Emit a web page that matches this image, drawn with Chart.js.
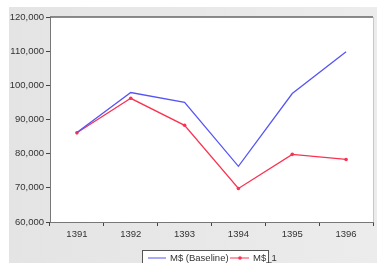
<!DOCTYPE html>
<html>
<head>
<meta charset="utf-8">
<script src="https://cdn.jsdelivr.net/npm/chart.js@4"></script>
<style>
    html, body { margin: 0; padding: 0; background: #ffffff; }
    #wrap { position: relative; width: 377px; height: 263px; }
</style>
</head>
<body>
<div id="wrap"><canvas id="grafico"></canvas></div>
<script>
// dados
const anos = ['1391', '1392', '1393', '1394', '1395', '1396'];
const baseline = [86200, 97900, 95000, 76300, 97600, 109800];
const cenario1 = [86100, 96200, 88300, 69800, 79800, 78300];
const yTicks = [60000, 70000, 80000, 90000, 100000, 110000, 120000];

const nomeBaseline = 'M$ (Baseline)';
const nomeCenario = 'M$_1';

const corAzul = 'rgba(85, 85, 245, 1)';
const corVermelha = 'rgba(250, 50, 80, 1)';

/**
 * Fundo cinza, área do gráfico branca e moldura
 */
const fundoPlugin = {
    id: 'fundo',
    beforeDraw(chart) {
        const ctx = chart.ctx;
        const a = chart.chartArea;
        ctx.save();
        const g = ctx.createLinearGradient(9, 0, 377, 0);
        g.addColorStop(0, '#e4e4e4');
        g.addColorStop(1, '#ececec');
        ctx.fillStyle = g;
        ctx.fillRect(9, 7, 377 - 9, 263 - 7);
        ctx.fillStyle = '#ffffff';
        ctx.fillRect(a.left, a.top, a.right - a.left, a.bottom - a.top);
        ctx.restore();
    },
    afterDraw(chart) {
        const ctx = chart.ctx;
        const a = chart.chartArea;
        ctx.save();
        ctx.strokeStyle = '#c8c8c8';
        ctx.lineWidth = 1;
        ctx.beginPath();
        ctx.moveTo(a.right + 0.5, a.top);
        ctx.lineTo(a.right + 0.5, a.bottom);
        ctx.stroke();
        ctx.strokeStyle = '#666666';
        ctx.lineWidth = 1.5;
        ctx.beginPath();
        ctx.moveTo(a.left, a.top);
        ctx.lineTo(a.right, a.top);
        ctx.stroke();

        // legenda com caixa
        const lx = 142, ly = 250;
        ctx.fillStyle = '#ffffff';
        ctx.fillRect(lx, ly, 126, 16);
        ctx.strokeStyle = '#555555';
        ctx.lineWidth = 1;
        ctx.strokeRect(lx + 0.5, ly + 0.5, 126, 16);
        ctx.font = '9.5px "Liberation Sans", Arial, sans-serif';
        ctx.textBaseline = 'middle';
        ctx.fillStyle = '#333333';
        const yl = ly + 8;
        ctx.strokeStyle = corAzul;
        ctx.beginPath();
        ctx.moveTo(148, yl);
        ctx.lineTo(166, yl);
        ctx.stroke();
        ctx.fillText(nomeBaseline, 170, yl);
        ctx.strokeStyle = corVermelha;
        ctx.beginPath();
        ctx.moveTo(230, yl);
        ctx.lineTo(249, yl);
        ctx.stroke();
        ctx.fillStyle = corVermelha;
        ctx.beginPath();
        ctx.arc(240, yl, 1.8, 0, Math.PI * 2);
        ctx.fill();
        ctx.fillStyle = '#333333';
        ctx.fillText(nomeCenario, 253, yl);
        ctx.restore();
    }
};

const grafico = new Chart(document.getElementById('grafico'), {
    type: 'line',
    data: {
        labels: anos,
        datasets: [
            {
                label: nomeBaseline,
                data: baseline,
                borderColor: corAzul,
                borderWidth: 1.3,
                pointRadius: 0,
                tension: 0
            },
            {
                label: nomeCenario,
                data: cenario1,
                borderColor: corVermelha,
                backgroundColor: corVermelha,
                borderWidth: 1.3,
                pointRadius: 1.8,
                pointBorderWidth: 0,
                tension: 0
            }
        ]
    },
    options: {
        responsive: true,
        maintainAspectRatio: false,
        animation: false,
        layout: {
            padding: { top: 17, right: 3, bottom: 21, left: 0 }
        },
        scales: {
            x: {
                offset: true,
                grid: {
                    offset: true,
                    drawOnChartArea: false,
                    drawTicks: true,
                    tickLength: 4,
                    color: '#444444'
                },
                border: { color: '#777777' },
                ticks: {
                    color: '#333333',
                    padding: 3,
                    maxRotation: 0,
                    font: { family: '"Liberation Sans", Arial, sans-serif', size: 9.5 }
                },
                afterFit: function (scale) {
                    scale.height = 20;
                }
            },
            y: {
                min: 60000,
                max: 120000,
                afterBuildTicks: function (scale) {
                    scale.ticks = yTicks.map(v => ({ value: v }));
                },
                grid: {
                    drawOnChartArea: false,
                    drawTicks: true,
                    tickLength: 4,
                    color: '#444444'
                },
                border: { color: '#777777' },
                ticks: {
                    color: '#333333',
                    padding: 2,
                    font: { family: '"Liberation Sans", Arial, sans-serif', size: 9.5 },
                    callback: function (v) {
                        return v.toLocaleString('en-US');
                    }
                },
                afterFit: function (scale) {
                    scale.width = 50;
                }
            }
        },
        plugins: {
            legend: { display: false },
            tooltip: { enabled: false }
        }
    },
    plugins: [fundoPlugin]
});
</script>
</body>
</html>
